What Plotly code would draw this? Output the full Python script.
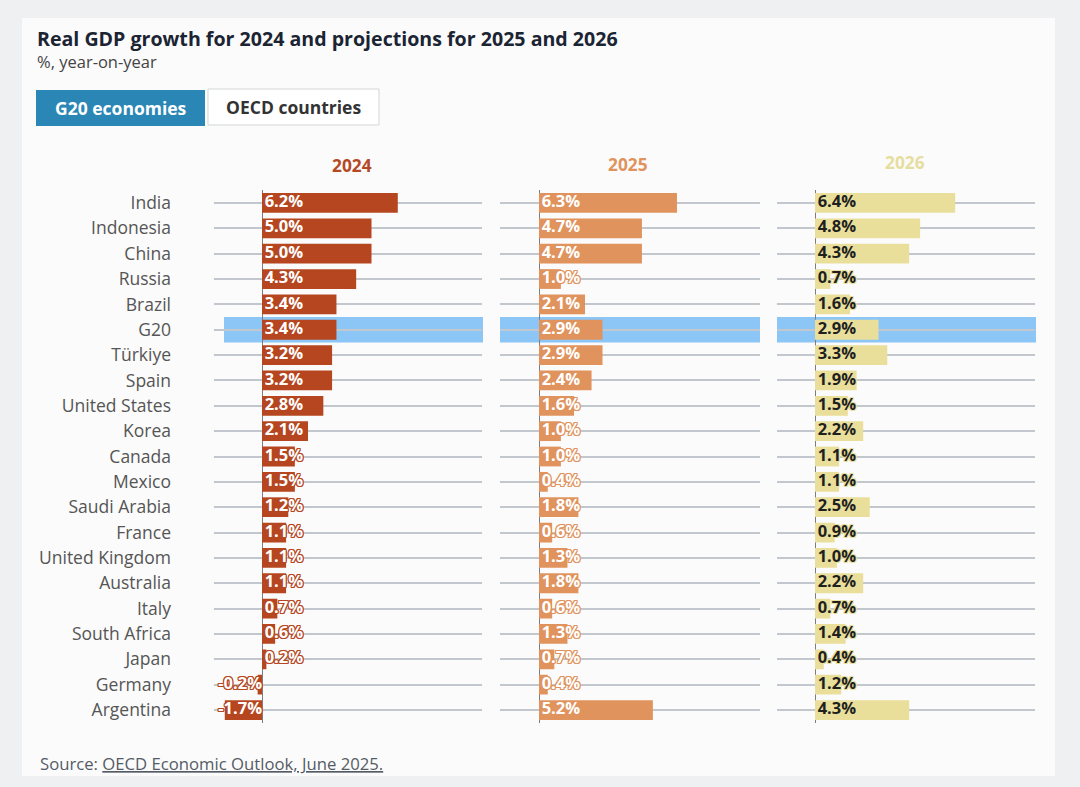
import plotly.graph_objects as go

countries = ["India", "Indonesia", "China", "Russia", "Brazil", "G20", "Türkiye", "Spain",
             "United States", "Korea", "Canada", "Mexico", "Saudi Arabia", "France",
             "United Kingdom", "Australia", "Italy", "South Africa", "Japan", "Germany", "Argentina"]
gdp_2024 = [6.2, 5.0, 5.0, 4.3, 3.4, 3.4, 3.2, 3.2, 2.8, 2.1, 1.5, 1.5, 1.2, 1.1, 1.1, 1.1, 0.7, 0.6, 0.2, -0.2, -1.7]
gdp_2025 = [6.3, 4.7, 4.7, 1.0, 2.1, 2.9, 2.9, 2.4, 1.6, 1.0, 1.0, 0.4, 1.8, 0.6, 1.3, 1.8, 0.6, 1.3, 0.7, 0.4, 5.2]
gdp_2026 = [6.4, 4.8, 4.3, 0.7, 1.6, 2.9, 3.3, 1.9, 1.5, 2.2, 1.1, 1.1, 2.5, 0.9, 1.0, 2.2, 0.7, 1.4, 0.4, 1.2, 4.3]
years = ["2024", "2025", "2026"]
highlight = "G20"

W, H = 1080, 787
FONT = "Open Sans"

def px_x(p):
    return p / W

def px_y(p):
    return 1 - p / H

bar_colors = ["#b5461f", "#e0935d", "#e9df9b"]
head_colors = ["#b34a25", "#e0935d", "#e6de9e"]
text_colors = ["#ffffff", "#ffffff", "#1f1f1f"]
series = [gdp_2024, gdp_2025, gdp_2026]
# pixel geometry of each panel: (left, right, zero)
panels = [(214, 482, 262), (500, 760, 539), (777, 1035, 815)]
scale = 21.9  # px per percentage point
y_top, y_bot = 190.3, 722.7
n = len(countries)

fig = go.Figure()

def outline(c):
    return ", ".join(f"{dx}px {dy}px 0 {c}" for dx, dy in
                     [(1, 0), (-1, 0), (0, 1), (0, -1), (1, 1), (-1, -1), (1, -1), (-1, 1)])

pad = 0.12  # small text gap from the zero line, in axis units
for i, (vals, col, tcol) in enumerate(zip(series, bar_colors, text_colors)):
    xa = "x" if i == 0 else f"x{i+1}"
    ya = "y" if i == 0 else f"y{i+1}"
    fig.add_trace(go.Bar(
        x=vals, y=countries, orientation="h", marker=dict(color=col, line=dict(width=0)),
        width=0.78, xaxis=xa, yaxis=ya, hoverinfo="skip", showlegend=False))
    fig.add_trace(go.Scatter(
        x=[pad if v >= 0 else 0 for v in vals], y=countries, mode="text",
        text=[f"{v:.1f}%" for v in vals],
        textposition=["middle right" if v >= 0 else "middle left" for v in vals],
        textfont=dict(family=FONT, size=16.5, color=tcol, weight=700, shadow=outline(col)),
        xaxis=xa, yaxis=ya, hoverinfo="skip", showlegend=False, cliponaxis=False))

layout = dict(
    width=W, height=H, margin=dict(l=0, r=0, t=0, b=0),
    paper_bgcolor="#eef0f2", plot_bgcolor="rgba(0,0,0,0)",
    font=dict(family=FONT, color="#444"),
)
for i, (l, r, z) in enumerate(panels):
    xk = "xaxis" if i == 0 else f"xaxis{i+1}"
    yk = "yaxis" if i == 0 else f"yaxis{i+1}"
    layout[xk] = dict(domain=[px_x(l), px_x(r)], range=[(l - z) / scale, (r - z) / scale],
                      showgrid=False, showticklabels=False, zeroline=True,
                      zerolinecolor="#7d7d7d", zerolinewidth=1.2, fixedrange=True,
                      anchor="y" if i == 0 else f"y{i+1}")
    layout[yk] = dict(domain=[px_y(y_bot), px_y(y_top)], categoryorder="array",
                      categoryarray=countries, range=[n - 0.5, -0.5],
                      showgrid=True, gridcolor="#c2c6cd", gridwidth=1.8,
                      showticklabels=(i == 0), ticks="",
                      tickfont=dict(family=FONT, size=17.5, color="#555555"),
                      ticklabelstandoff=42, fixedrange=True,
                      anchor="x" if i == 0 else f"x{i+1}")
fig.update_layout(**layout)

shapes = []
# card
shapes.append(dict(type="rect", xref="paper", yref="paper", x0=px_x(22), x1=px_x(1055),
                   y0=px_y(776), y1=px_y(18), fillcolor="#fbfbfb", line=dict(width=0), layer="below"))
# highlight bands
hi = countries.index(highlight)
band_px = [(224, 483), (500, 760), (777, 1036)]
for i, (l, r) in enumerate(band_px):
    shapes.append(dict(type="rect", xref="paper", yref="y" if i == 0 else f"y{i+1}",
                       x0=px_x(l), x1=px_x(r), y0=hi - 0.5, y1=hi + 0.5,
                       fillcolor="#8cc6f6", line=dict(width=0), layer="below"))
# buttons
shapes.append(dict(type="rect", xref="paper", yref="paper", x0=px_x(36), x1=px_x(205),
                   y0=px_y(126), y1=px_y(90), fillcolor="#2a86b4", line=dict(width=0)))
shapes.append(dict(type="rect", xref="paper", yref="paper", x0=px_x(208), x1=px_x(379),
                   y0=px_y(125), y1=px_y(89), fillcolor="#ffffff", line=dict(width=1, color="#d2d5d9")))
fig.update_layout(shapes=shapes)

ann = []
ann.append(dict(text="<b>Real GDP growth for 2024 and projections for 2025 and 2026</b>",
                x=px_x(35), y=px_y(38), xref="paper", yref="paper", xanchor="left", yanchor="middle",
                showarrow=False, font=dict(family=FONT, size=19.6, color="#1b2433")))
ann.append(dict(text="%, year-on-year", x=px_x(35), y=px_y(61), xref="paper", yref="paper",
                xanchor="left", yanchor="middle", showarrow=False,
                font=dict(family=FONT, size=16.5, color="#444444")))
ann.append(dict(text="<b>G20 economies</b>", x=px_x(120.5), y=px_y(108), xref="paper", yref="paper",
                xanchor="center", yanchor="middle", showarrow=False,
                font=dict(family=FONT, size=17.5, color="#ffffff")))
ann.append(dict(text="<b>OECD countries</b>", x=px_x(293.5), y=px_y(107), xref="paper", yref="paper",
                xanchor="center", yanchor="middle", showarrow=False,
                font=dict(family=FONT, size=17.5, color="#333333")))
for i, (yr, col) in enumerate(zip(years, head_colors)):
    cx = [352, 628, 905][i]
    cy = [166, 165, 163][i]
    ann.append(dict(text=f"<b>{yr}</b>", x=px_x(cx), y=px_y(cy), xref="paper", yref="paper",
                    xanchor="center", yanchor="middle", showarrow=False,
                    font=dict(family=FONT, size=17.3, color=col)))
ann.append(dict(text="Source: <u>OECD Economic Outlook, June 2025.</u>", x=px_x(38), y=px_y(763),
                xref="paper", yref="paper", xanchor="left", yanchor="middle", showarrow=False,
                font=dict(family=FONT, size=16.7, color="#555b66")))
fig.update_layout(annotations=ann)

fig.write_html("out.html", config={"displayModeBar": False},
               post_script="document.body.style.margin='0px';")
